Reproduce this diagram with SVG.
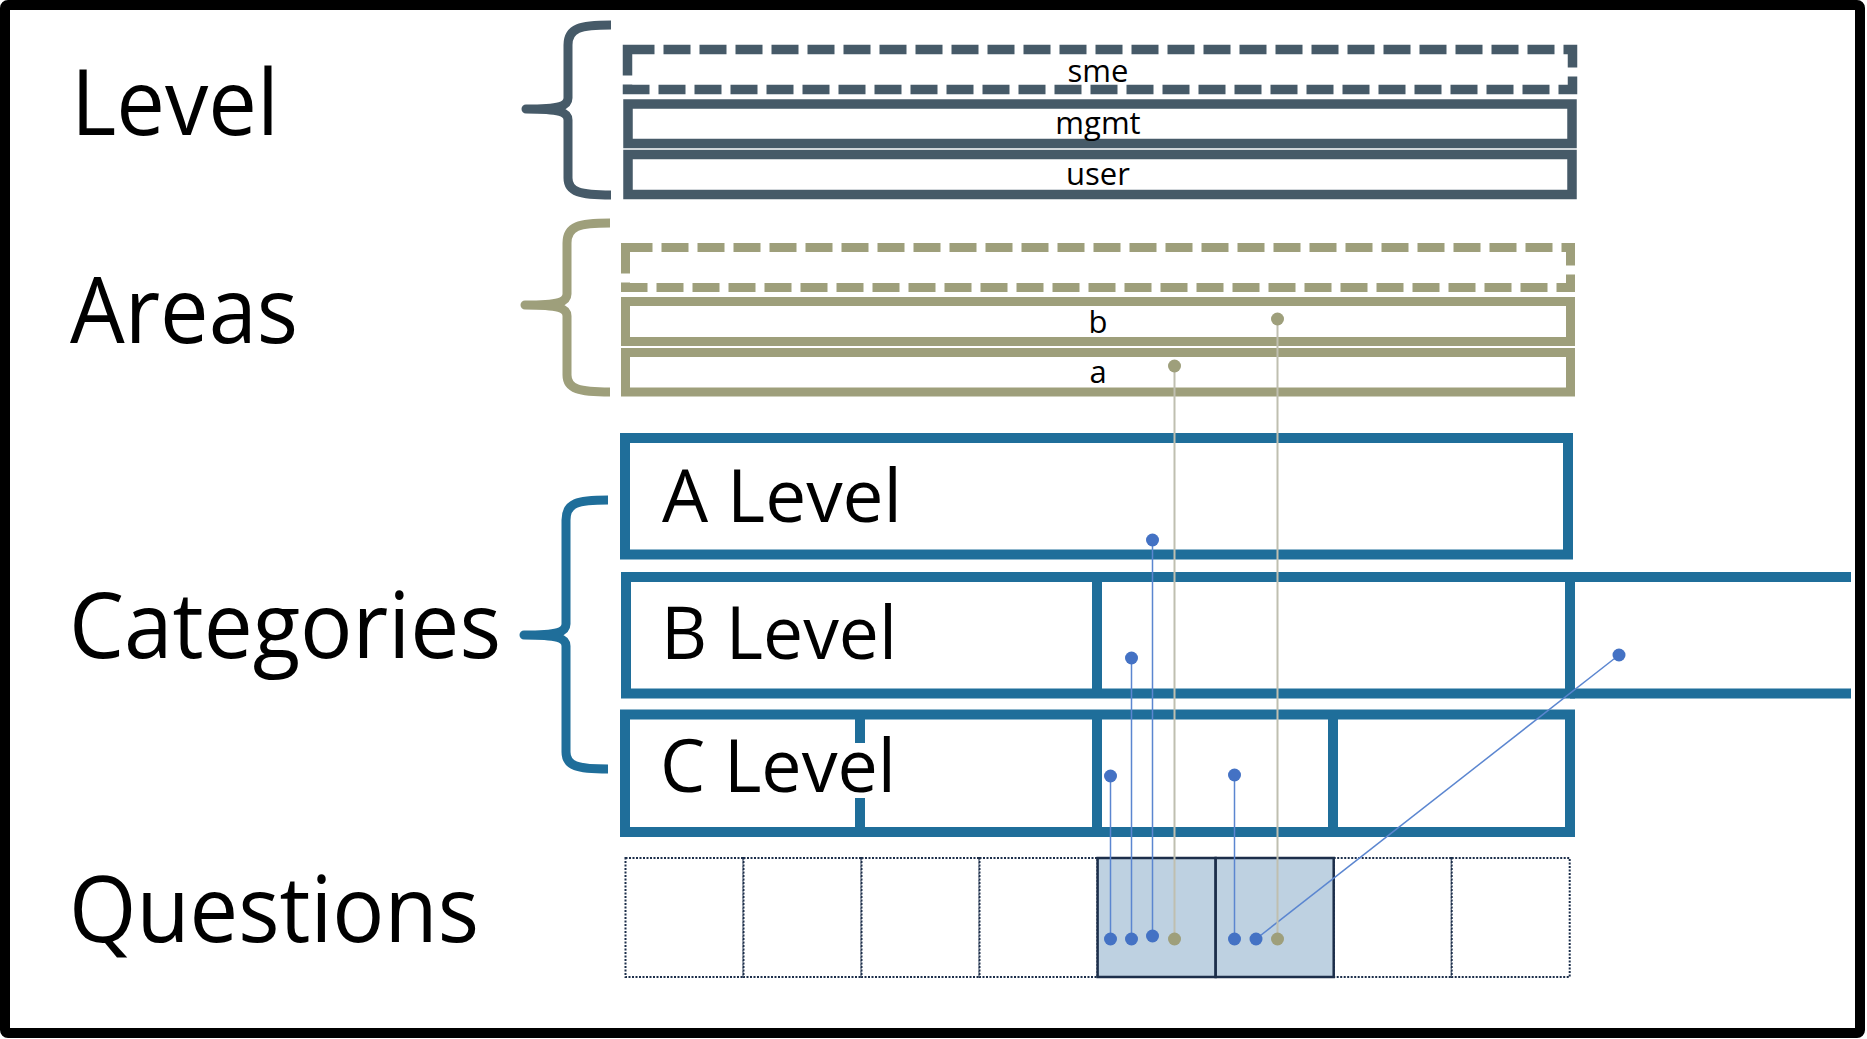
<svg xmlns="http://www.w3.org/2000/svg" width="1867" height="1039" viewBox="0 0 1867 1039">
<style>
.lbl{font-family:"Open Sans","Noto Sans","Liberation Sans",sans-serif;font-size:91px;fill:#000}
.cat{font-family:"Open Sans","Noto Sans","Liberation Sans",sans-serif;font-size:73px;fill:#000}
.sm{font-family:"Open Sans","Noto Sans","Liberation Sans",sans-serif;font-size:31px;fill:#000;text-anchor:middle}
.slate{fill:none;stroke:#465A68;stroke-width:9.5}
.olive{fill:none;stroke:#9E9F7B;stroke-width:9}
.dash{stroke-dasharray:27 9}
.blue{fill:none;stroke:#1F6E9A;stroke-width:10}
.brace{fill:none;stroke-width:9;stroke-linejoin:round;stroke-linecap:butt}
.q{fill:#fff;stroke:#1C2E4A;stroke-width:2;stroke-dasharray:2 1.5}
.qh{fill:#BED1E1;stroke:#1C2E4A;stroke-width:2.5}
.bl{stroke:#5B86D0;stroke-width:1.5;fill:none}
.gl{stroke:#BFBFB0;stroke-width:2;fill:none}
.bd{fill:#4472C4}
.od{fill:#9E9F7B}
</style>
<rect x="0" y="0" width="1867" height="1039" fill="#fff"/>
<rect id="frame" x="5" y="5" width="1855" height="1028" rx="3" fill="none" stroke="#000" stroke-width="10"/>

<g id="label-level"><text class="lbl" x="71" y="135" textLength="208" lengthAdjust="spacingAndGlyphs">Level</text></g>
<g id="label-areas"><text class="lbl" x="70" y="343" textLength="228" lengthAdjust="spacingAndGlyphs">Areas</text></g>
<g id="label-categories"><text class="lbl" x="69" y="658" textLength="432" lengthAdjust="spacingAndGlyphs">Categories</text></g>
<g id="label-questions"><text class="lbl" x="69" y="942" textLength="410" lengthAdjust="spacingAndGlyphs">Questions</text></g>

<g id="brace-level"><path class="brace" stroke="#465A68" d="M611,25 C580,25 568,28 568,45 L568,98 C568,106 560,109 526,109 C560,109 568,112 568,120 L568,178 C568,192 580,195 611,195"/></g>
<g id="brace-areas"><path class="brace" stroke="#9E9F7B" d="M610,223 C579,223 567,226 567,243 L567,294 C567,302 559,305 525,305 C559,305 567,308 567,316 L567,375 C567,389 579,392 610,392"/></g>
<g id="brace-categories"><path class="brace" stroke="#1F6E9A" d="M608,500 C577,500 566,503 566,520 L566,624 C566,632 558,635 524,635 C558,635 566,638 566,646 L566,752 C566,766 577,769 608,769"/></g>

<g id="level-sme"><rect class="slate dash" x="627.5" y="49.5" width="945" height="40" stroke-width="9"/><text class="sm" x="1098" y="82">sme</text></g>
<g id="level-mgmt"><rect class="slate" x="628" y="104" width="944" height="39.5"/><text class="sm" x="1098" y="134">mgmt</text></g>
<g id="level-user"><rect class="slate" x="628" y="154.5" width="944" height="40"/><text class="sm" x="1098" y="185">user</text></g>

<g id="area-extra"><rect class="olive dash" x="625.5" y="247.5" width="945" height="40"/></g>
<g id="area-b"><rect class="olive" x="625.5" y="301.5" width="945" height="40"/><text class="sm" x="1098" y="333">b</text></g>
<g id="area-a"><rect class="olive" x="625.5" y="352.5" width="945" height="39.5"/><text class="sm" x="1098" y="383">a</text></g>

<g id="cat-a"><rect class="blue" x="625" y="438" width="943" height="116.5"/><text class="cat" x="662" y="522" textLength="240" lengthAdjust="spacingAndGlyphs">A Level</text></g>
<g id="cat-b">
<rect class="blue" x="626" y="577" width="944" height="116.5"/>
<line class="blue" x1="1097" y1="577" x2="1097" y2="693.5"/>
<line class="blue" x1="1570" y1="577" x2="1851" y2="577"/>
<line class="blue" x1="1570" y1="693.5" x2="1851" y2="693.5"/>
<text class="cat" x="661" y="659" textLength="236" lengthAdjust="spacingAndGlyphs">B Level</text>
</g>
<g id="cat-c">
<rect class="blue" x="625" y="714.5" width="945" height="117.5"/>
<line class="blue" x1="860" y1="714.5" x2="860" y2="743"/>
<line class="blue" x1="860" y1="798" x2="860" y2="832"/>
<line class="blue" x1="1097" y1="714.5" x2="1097" y2="832"/>
<line class="blue" x1="1333" y1="714.5" x2="1333" y2="832"/>
<text class="cat" x="660" y="792" textLength="236" lengthAdjust="spacingAndGlyphs">C Level</text>
</g>

<g id="questions">
<rect class="q" x="625.5" y="858" width="118" height="119"/>
<rect class="q" x="743.5" y="858" width="118" height="119"/>
<rect class="q" x="861.5" y="858" width="118" height="119"/>
<rect class="q" x="979.5" y="858" width="118" height="119"/>
<rect class="q" x="1333.7" y="858" width="118" height="119"/>
<rect class="q" x="1451.7" y="858" width="118" height="119"/>
<rect class="qh" x="1097.6" y="858" width="118" height="119"/>
<rect class="qh" x="1215.7" y="858" width="118" height="119"/>
</g>

<g id="connectors">
<line class="bl" x1="1110.5" y1="939" x2="1110.5" y2="776"/>
<line class="bl" x1="1131.5" y1="939" x2="1131.5" y2="658"/>
<line class="bl" x1="1152.5" y1="936" x2="1152.5" y2="540"/>
<line class="gl" x1="1174.5" y1="939" x2="1174.5" y2="366"/>
<line class="bl" x1="1234.5" y1="939" x2="1234.5" y2="775"/>
<line class="bl" x1="1256" y1="939" x2="1619" y2="655"/>
<line class="gl" x1="1277.5" y1="939" x2="1277.5" y2="319"/>
<circle class="bd" cx="1110.5" cy="939" r="6.5"/>
<circle class="bd" cx="1131.5" cy="939" r="6.5"/>
<circle class="bd" cx="1152.5" cy="936" r="6.5"/>
<circle class="od" cx="1174.5" cy="939" r="6.5"/>
<circle class="bd" cx="1234.5" cy="939" r="6.5"/>
<circle class="bd" cx="1256" cy="939" r="6.5"/>
<circle class="od" cx="1277.5" cy="939" r="6.5"/>
<circle class="bd" cx="1110.5" cy="776" r="6.5"/>
<circle class="bd" cx="1131.5" cy="658" r="6.5"/>
<circle class="bd" cx="1152.5" cy="540" r="6.5"/>
<circle class="od" cx="1174.5" cy="366" r="6.5"/>
<circle class="bd" cx="1234.5" cy="775" r="6.5"/>
<circle class="bd" cx="1619" cy="655" r="6.5"/>
<circle class="od" cx="1277.5" cy="319" r="6.5"/>
</g>
</svg>
